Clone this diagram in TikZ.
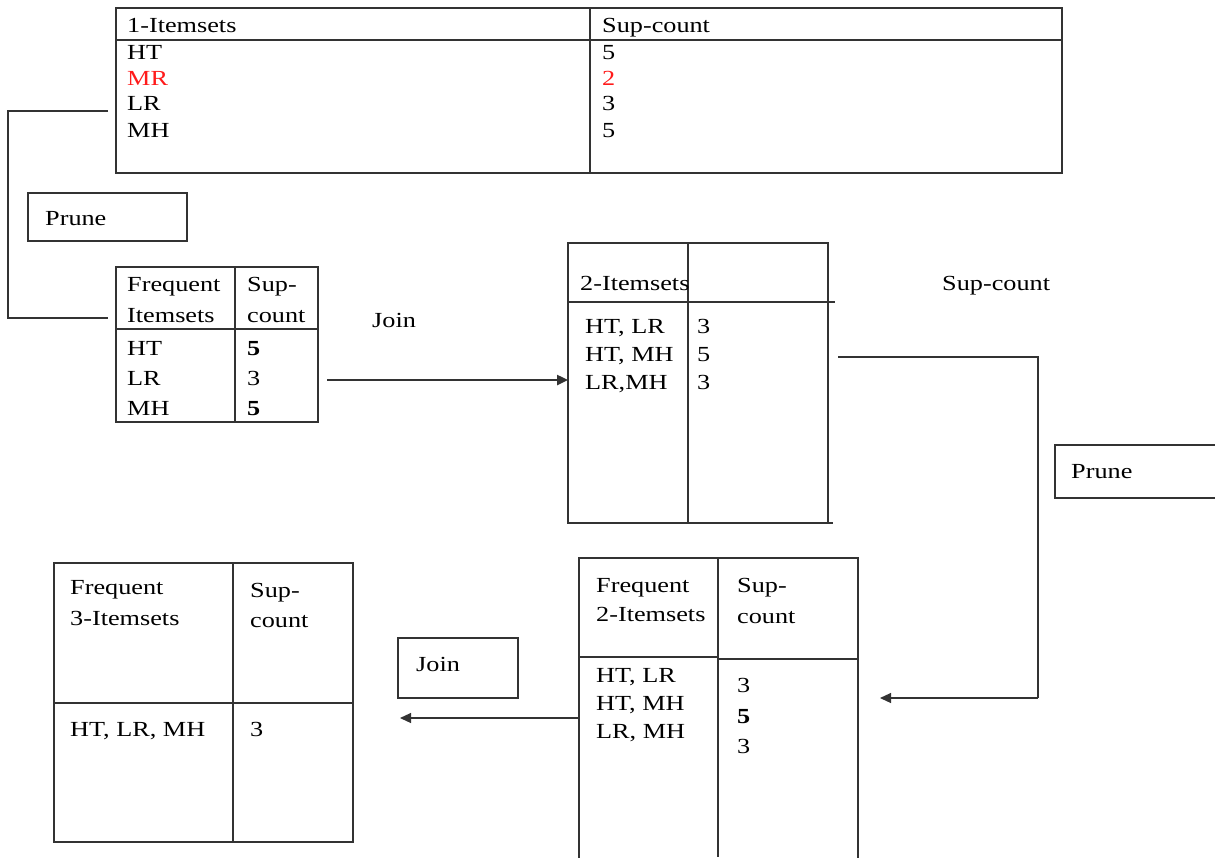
\documentclass[tikz,border=0pt]{standalone}
\usepackage{fontspec}
\setmainfont{Liberation Serif}
\usetikzlibrary{arrows.meta}
\definecolor{ln}{HTML}{333333}
\definecolor{redtxt}{HTML}{FF1A1A}
\newcommand{\wtx}[1]{\scalebox{1.22}[1]{#1}}
\begin{document}
\begin{tikzpicture}[x=1pt,y=-1pt,
  box/.style={draw=ln,line width=1.3pt,anchor=north west,inner sep=0pt,outer sep=0pt},
  rule/.style={draw=ln,line width=1.3pt},
  conn/.style={draw=ln,line width=1.2pt},
  txt/.style={anchor=base west,inner sep=0pt,font=\fontsize{21.5}{24}\selectfont},
  arr/.style={conn,-{Triangle[length=11pt,width=10pt]}}]
\useasboundingbox (0,0) rectangle (1215,857);

% Table 1
\node[box,minimum width=946pt,minimum height=165pt] (t1) at (116,8) {};
\draw[rule] (116,40) -- (1062,40);
\draw[rule] (590,8) -- (590,173);
\node[txt] (t1h1) at (127,32) {\wtx{1-Itemsets}};
\node[txt] (t1h2) at (602,32) {\wtx{Sup-count}};
\node[txt] (t1a) at (127,59) {\wtx{HT}};
\node[txt,text=redtxt] (t1b) at (127,85) {\wtx{MR}};
\node[txt] (t1c) at (127,110) {\wtx{LR}};
\node[txt] (t1d) at (127,137) {\wtx{MH}};
\node[txt] (t1e) at (602,59) {\wtx{5}};
\node[txt,text=redtxt] (t1f) at (602,85) {\wtx{2}};
\node[txt] (t1g) at (602,110) {\wtx{3}};
\node[txt] (t1i) at (602,137) {\wtx{5}};

% Prune 1
\node[box,minimum width=159pt,minimum height=48pt] (pr1) at (28,193) {};
\node[txt] (pr1t) at (45,225) {\wtx{Prune}};

% Table 2
\node[box,minimum width=202pt,minimum height=155pt] (t2) at (116,267) {};
\draw[rule] (116,329) -- (318,329);
\draw[rule] (235,267) -- (235,422);
\node[txt] at (127,291) {\wtx{Frequent}};
\node[txt] at (127,322) {\wtx{Itemsets}};
\node[txt] at (247,291) {\wtx{Sup-}};
\node[txt] at (247,322) {\wtx{count}};
\node[txt] at (127,355) {\wtx{HT}};
\node[txt] at (127,385) {\wtx{LR}};
\node[txt] at (127,415) {\wtx{MH}};
\node[txt] at (247,355) {\wtx{\textbf{5}}};
\node[txt] at (247,385) {\wtx{3}};
\node[txt] at (247,415) {\wtx{\textbf{5}}};

% left connector
\coordinate (c1) at (108,111);
\coordinate (c2) at (108,318);
\draw[conn] (c1) -- (8,111) -- (8,318) -- (c2);

% Join label
\node[txt] (join1) at (372,327) {\wtx{Join}};

% Table 3
\node[box,minimum width=260pt,minimum height=280pt] (t3) at (568,243) {};
\draw[rule] (568,302) -- (835,302);
\draw[rule] (568,523) -- (833,523);
\draw[rule] (688,243) -- (688,523);
\node[txt] at (580,290) {\wtx{2-Itemsets}};
\node[txt] at (585,333) {\wtx{HT, LR}};
\node[txt] at (585,361) {\wtx{HT, MH}};
\node[txt] at (585,389) {\wtx{LR,MH}};
\node[txt] at (697,333) {\wtx{3}};
\node[txt] at (697,361) {\wtx{5}};
\node[txt] at (697,389) {\wtx{3}};

% arrow join
\coordinate (a1) at (327,380);
\draw[arr,line width=2.4pt] (a1) -- (t3.west |- a1);

% Sup-count label
\node[txt] (sc) at (942,290) {\wtx{Sup-count}};

% Prune 2
\node[box,minimum width=170pt,minimum height=53pt] (pr2) at (1055,445) {};
\node[txt] at (1071,478) {\wtx{Prune}};

% Table 4
\node[box,minimum width=279pt,minimum height=310pt] (t4) at (579,558) {};
\draw[rule] (579,657) -- (718,657);
\draw[rule] (718,659) -- (858,659);
\draw[rule] (718,558) -- (718,857);
\node[txt] at (596,592) {\wtx{Frequent}};
\node[txt] at (596,621) {\wtx{2-Itemsets}};
\node[txt] at (737,592) {\wtx{Sup-}};
\node[txt] at (737,623) {\wtx{count}};
\node[txt] at (596,682) {\wtx{HT, LR}};
\node[txt] at (596,710) {\wtx{HT, MH}};
\node[txt] at (596,738) {\wtx{LR, MH}};
\node[txt] at (737,692) {\wtx{3}};
\node[txt] at (737,723) {\wtx{\textbf{5}}};
\node[txt] at (737,753) {\wtx{3}};

% right connector
\coordinate (r1) at (838,357);
\coordinate (r2) at (880,698);
\draw[conn] (r1) -- (1038,357) -- (1038,698);
\draw[arr] (1038,698) -- (r2);

% Table 5
\node[box,minimum width=299pt,minimum height=279pt] (t5) at (54,563) {};
\draw[rule,line width=2.2pt] (54,563) -- (333,563);
\draw[rule,line width=2.2pt] (54,703) -- (233,703);
\draw[rule] (233,703) -- (353,703);
\draw[rule] (233,563) -- (233,842);
\node[txt] at (70,594) {\wtx{Frequent}};
\node[txt] at (70,625) {\wtx{3-Itemsets}};
\node[txt] at (250,597) {\wtx{Sup-}};
\node[txt] at (250,627) {\wtx{count}};
\node[txt] at (70,736) {\wtx{HT, LR, MH}};
\node[txt] at (250,736) {\wtx{3}};

% Join box 2
\node[box,minimum width=120pt,minimum height=60pt] (jb) at (398,638) {};
\node[txt] at (416,671) {\wtx{Join}};

% arrow to table 5
\coordinate (a2) at (400,718);
\draw[arr] (t4.west |- a2) -- (a2);
\end{tikzpicture}
\end{document}
